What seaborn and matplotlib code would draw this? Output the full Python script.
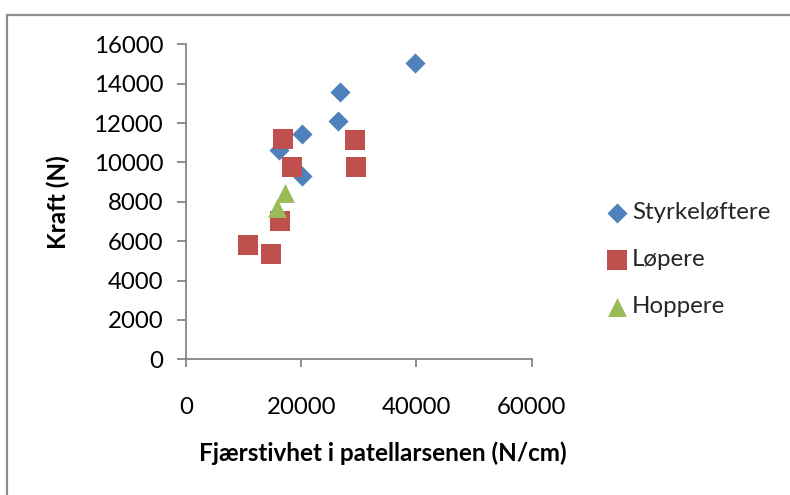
import matplotlib
matplotlib.use("Agg")
import matplotlib.pyplot as plt
from matplotlib.lines import Line2D
import numpy as np
import pandas as pd
import seaborn as sns

# Measured values: tendon stiffness (N/cm) and force (N) per athlete group
styrke_x = [39700, 26800, 26400, 20200, 16200, 20200]
styrke_y = [15050, 13600, 12100, 11450, 10650, 9300]

loper_x = [16800, 29400, 18400, 29500, 16400, 10800, 14800]
loper_y = [11200, 11150, 9750, 9750, 7000, 5800, 5350]

hopper_x = [17100, 15800]
hopper_y = [8450, 7700]

groups = ["Styrkeløftere", "Løpere", "Hoppere"]
x_ticks = [0, 20000, 40000, 60000]
y_ticks = [0, 2000, 4000, 6000, 8000, 10000, 12000, 14000, 16000]

df = pd.concat([
    pd.DataFrame({"x": styrke_x, "y": styrke_y, "gruppe": groups[0]}),
    pd.DataFrame({"x": loper_x, "y": loper_y, "gruppe": groups[1]}),
    pd.DataFrame({"x": hopper_x, "y": hopper_y, "gruppe": groups[2]}),
], ignore_index=True)

sns.set_theme(style="white")
plt.rcParams["font.family"] = ["Lato", "DejaVu Sans"]

colors = {"Styrkeløftere": "#4F81BD", "Løpere": "#C0504D", "Hoppere": "#9BBB59"}
markers = {"Styrkeløftere": "D", "Løpere": "s", "Hoppere": "^"}
sizes = {"Styrkeløftere": 105, "Løpere": 200, "Hoppere": 185}

fig = plt.figure(figsize=(7.9, 4.95), dpi=100)
ax = fig.add_axes([186 / 790, 1 - 359.3 / 495, (531.7 - 186) / 790, (359.3 - 44.3) / 495])

for g in groups:
    sub = df[df["gruppe"] == g]
    sns.scatterplot(data=sub, x="x", y="y", ax=ax, color=colors[g],
                    marker=markers[g], s=sizes[g], linewidth=0, label=g,
                    zorder=3)

ax.set_xlim(0, 60000)
ax.set_ylim(0, 16000)
ax.set_xticks(x_ticks)
ax.set_yticks(y_ticks)
ax.set_xticklabels([str(v) for v in x_ticks])
ax.set_yticklabels([str(v) for v in y_ticks])

axis_gray = "#868686"
for side in ["top", "right"]:
    ax.spines[side].set_visible(False)
for side in ["left", "bottom"]:
    ax.spines[side].set_color(axis_gray)
    ax.spines[side].set_linewidth(1.3)

ax.tick_params(axis="y", which="both", direction="out", length=6.5, width=1.3,
               color=axis_gray, labelsize=17.3, labelcolor="black", pad=10, left=True)
ax.tick_params(axis="x", which="both", direction="out", length=6, width=1.3,
               color=axis_gray, labelsize=17.3, labelcolor="black", pad=21, bottom=True)

ax.set_xlabel("Fjærstivhet i patellarsenen (N/cm)", fontsize=17.5, fontweight="bold",
              color="black")
ax.set_ylabel("Kraft (N)", fontsize=17.5, fontweight="bold", color="black")
ax.xaxis.set_label_coords(0.568, -0.297)
ax.yaxis.set_label_coords(-0.37, 0.5)
ax.xaxis.label.set_va("center")
ax.yaxis.label.set_va("center")

leg = ax.legend(loc="upper left", bbox_to_anchor=(603 / 790, 1 - 202 / 495),
                bbox_transform=fig.transFigure, frameon=False, fontsize=17.3,
                labelspacing=1.08, handletextpad=0.0, handlelength=1.2,
                borderpad=0, borderaxespad=0)

# Outer chart frame (top and left edges)
frame_kw = dict(color="#8c8c8c", linewidth=1.6, transform=fig.transFigure)
fig.add_artist(Line2D([7 / 790, 1.0], [1 - 15 / 495, 1 - 15 / 495], **frame_kw))
fig.add_artist(Line2D([7 / 790, 7 / 790], [1 - 15 / 495, 0.0], **frame_kw))

fig.savefig("out.png", dpi=100, facecolor="white")
